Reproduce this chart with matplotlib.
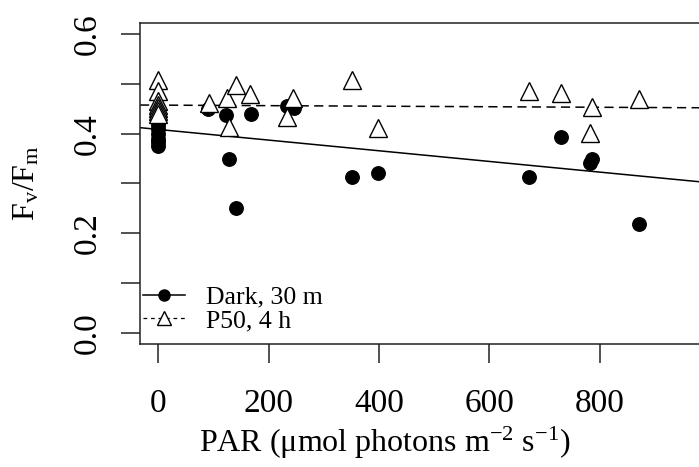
import matplotlib
matplotlib.use("Agg")
import matplotlib.pyplot as plt
import numpy as np
from matplotlib.lines import Line2D

plt.rcParams['font.family'] = ['Liberation Serif', 'DejaVu Serif']
plt.rcParams['mathtext.fontset'] = 'custom'
plt.rcParams['mathtext.rm'] = 'Liberation Serif'
plt.rcParams['mathtext.it'] = 'Liberation Serif:italic'

# --- data ---
dark_par = [0, 0, 0, 0, 0, 0, 0, 0, 0,
            91, 123, 129, 140, 168, 233, 246, 351, 398, 672, 730, 783, 786, 872]
dark_fvfm = [0.445, 0.435, 0.425, 0.418, 0.41, 0.40, 0.39, 0.383, 0.376,
             0.449, 0.437, 0.349, 0.250, 0.440, 0.456, 0.451, 0.314, 0.322,
             0.314, 0.394, 0.341, 0.349, 0.218]
p50_par = [0, 0, 0, 0, 0, 0, 0,
           92, 124, 128, 140, 166, 233, 245, 351, 398, 672, 730, 783, 786, 872]
p50_fvfm = [0.508, 0.486, 0.465, 0.458, 0.452, 0.446, 0.44,
            0.461, 0.471, 0.414, 0.498, 0.479, 0.434, 0.472, 0.508, 0.412,
            0.486, 0.481, 0.402, 0.454, 0.470]
dark_fit = (0.4085, -0.000107)   # intercept, slope
p50_fit = (0.4573, -0.0000054)

x_ticks = [0, 200, 400, 600, 800]
y_ticks = [0.0, 0.1, 0.2, 0.3, 0.4, 0.5, 0.6]
y_ticklabels = ['0.0', '', '0.2', '', '0.4', '', '0.6']

W, H = 699, 467
fig = plt.figure(figsize=(W / 100, H / 100), dpi=100)
left, right, top, bottom = 140, 725, 23, 344
ax = fig.add_axes([left / W, 1 - bottom / H, (right - left) / W, (bottom - top) / H])

x0 = -33.2
x1 = x0 + (right - left) / 110.3 * 200
ax.set_xlim(x0, x1)
ax.set_ylim(-0.0221, 0.6221)

xx = np.array([x0, x1])
ax.plot(xx, dark_fit[0] + dark_fit[1] * xx, color='black', lw=1.1, zorder=2)
ax.plot(xx, p50_fit[0] + p50_fit[1] * xx, color='black', lw=1.1,
        dashes=(6, 3.5), zorder=2)

ax.plot(dark_par, dark_fvfm, 'o', color='black', ms=9.7, zorder=3)
ax.plot(p50_par, p50_fvfm, '^', mfc='white', mec='black', mew=1.0, ms=12.5, zorder=4)

ax.set_xticks(x_ticks)
ax.set_xticklabels([str(v) for v in x_ticks], fontsize=24)
ax.set_yticks(y_ticks)
ax.set_yticklabels(y_ticklabels, fontsize=24, rotation=90, va='center')
ax.tick_params(axis='x', length=14, width=1.1, pad=18, color='#222222')
ax.tick_params(axis='y', length=14, width=1.1, pad=13, color='#222222')

for s in ['left', 'top', 'bottom']:
    ax.spines[s].set_linewidth(1.1)
    ax.spines[s].set_color('#222222')
ax.spines['right'].set_visible(False)

fig.text(385 / W, 1 - 443 / H, r'PAR ($\mathrm{\mu}$mol photons m$^{-2}$ s$^{-1}$)',
         ha='center', va='center', fontsize=23)
fig.text(27 / W, 1 - 183 / H, r'F$_\mathrm{v}$/F$_\mathrm{m}$',
         ha='center', va='center', fontsize=23, rotation=90)

handles = [Line2D([], [], color='black', lw=1.1, marker='o', ms=8),
           Line2D([], [], color='black', lw=0.9, dashes=(3, 3), marker='^',
                  mfc='white', mec='black', ms=9.5)]
leg = ax.legend(handles, ['Dark, 30 m', 'P50, 4 h'], loc='lower left',
                bbox_to_anchor=(143 / W, 1 - 332 / H), bbox_transform=fig.transFigure,
                frameon=False, fontsize=18.5, handlelength=1.65, handletextpad=0.8,
                labelspacing=0.02, borderpad=0, borderaxespad=0)

fig.savefig('out.png', dpi=100)
